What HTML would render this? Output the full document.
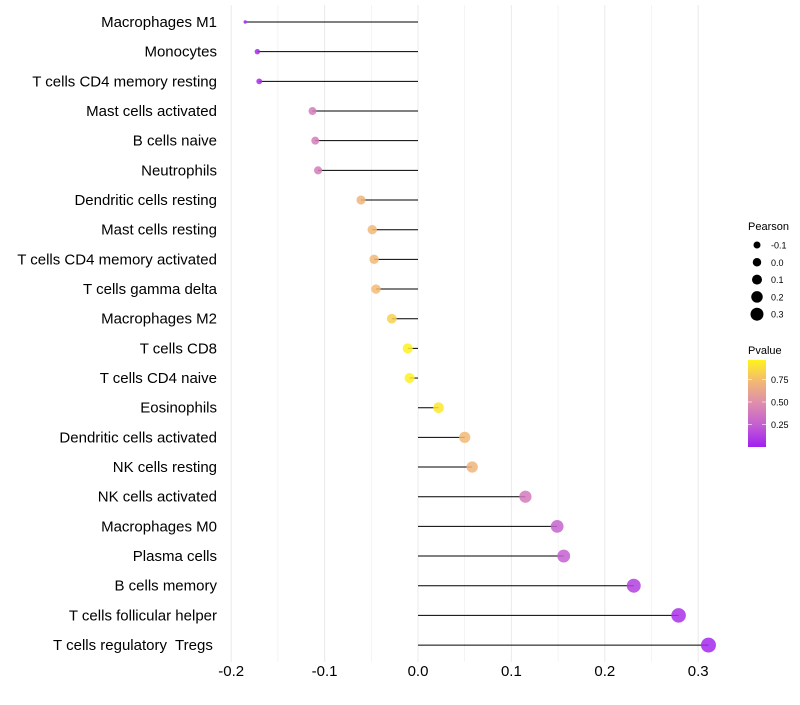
<!DOCTYPE html>
<html><head><meta charset="utf-8"><style>
body{margin:0;background:#fff;font-family:"Liberation Sans",sans-serif}
text{white-space:pre}
</style></head><body>
<svg id="c" width="800" height="700" xmlns="http://www.w3.org/2000/svg">
<defs><linearGradient id="pg" x1="0" y1="1" x2="0" y2="0">
<stop offset="0" stop-color="#A020F0"/><stop offset="0.25" stop-color="#C35ED2"/>
<stop offset="0.5" stop-color="#DE8CAE"/><stop offset="0.75" stop-color="#F2B875"/>
<stop offset="1" stop-color="#FFF21E"/></linearGradient></defs>
</svg>
<script>
const categories=["Macrophages M1","Monocytes","T cells CD4 memory resting","Mast cells activated","B cells naive","Neutrophils","Dendritic cells resting","Mast cells resting","T cells CD4 memory activated","T cells gamma delta","Macrophages M2","T cells CD8","T cells CD4 naive","Eosinophils","Dendritic cells activated","NK cells resting","NK cells activated","Macrophages M0","Plasma cells","B cells memory","T cells follicular helper","T cells regulatory  Tregs "];
const pearson=[-0.185,-0.172,-0.170,-0.113,-0.110,-0.107,-0.061,-0.049,-0.047,-0.045,-0.028,-0.011,-0.009,0.022,0.050,0.058,0.115,0.149,0.156,0.231,0.279,0.311];
const pvalue=[0.03,0.05,0.05,0.40,0.40,0.40,0.70,0.72,0.72,0.73,0.82,0.95,0.95,0.92,0.72,0.70,0.38,0.27,0.25,0.12,0.06,0.03];
const xTicks=[-0.2,-0.1,0.0,0.1,0.2,0.3];
const sizeLegend=[-0.1,0.0,0.1,0.2,0.3];
const pTicks=[0.25,0.50,0.75];
const NS="http://www.w3.org/2000/svg",svg=document.getElementById('c');
const x=v=>418+v*934;
const y=i=>22+i*29.67;
const rad=v=>v<-0.16?Math.max(1.7,1.7+(v+0.185)*80):Math.sqrt(Math.max(1,26.5+95*v));
const stops=[[0,[160,32,240]],[0.25,[195,94,210]],[0.5,[222,140,174]],[0.75,[242,184,117]],[1,[255,242,30]]];
function col(p){p=Math.min(1,Math.max(0,p/0.96));for(let k=1;k<stops.length;k++){if(p<=stops[k][0]){const a=stops[k-1],b=stops[k],t=(p-a[0])/(b[0]-a[0]);return 'rgb('+a[1].map((c,j)=>Math.round(c+(b[1][j]-c)*t)).join(',')+')';}}return 'rgb(255,242,30)';}
function el(t,a,txt){const e=document.createElementNS(NS,t);for(const k in a)e.setAttribute(k,a[k]);if(txt!==undefined)e.textContent=txt;svg.appendChild(e);return e;}
for(let v=-0.2;v<=0.3001;v+=0.05){const g=el('line',{x1:x(v),x2:x(v),y1:5,y2:662,stroke:'#ececec','stroke-width':Math.abs(Math.round(v*20))%2?0.6:1.1});}
xTicks.forEach(v=>{const t=el('text',{x:x(v),y:676,'font-size':15,'text-anchor':'middle',fill:'#000'},v.toFixed(1));});
categories.forEach((c,i)=>{
const t=el('text',{x:217,y:y(i)+5,'font-size':15,'text-anchor':'end',fill:'#000'},c);
const l=el('line',{x1:x(0),x2:x(pearson[i]),y1:y(i),y2:y(i),stroke:'#000','stroke-width':1});
const d=el('circle',{cx:x(pearson[i]),cy:y(i),r:rad(pearson[i]),fill:col(pvalue[i]),'fill-opacity':0.85});
});
let t=el('text',{x:748,y:230,'font-size':11},'Pearson');
sizeLegend.forEach((v,k)=>{const cy=245+k*17.3;const d=el('circle',{cx:757,cy:cy,r:3.5+k*0.75,fill:'#000'});
const tt=el('text',{x:771,y:cy+3.5,'font-size':9},v.toFixed(1));});
t=el('text',{x:748,y:354,'font-size':11},'Pvalue');
const r=el('rect',{x:748,y:360,width:18,height:87,fill:'url(#pg)'});
pTicks.forEach(v=>{const cy=447-v*90;const tt=el('text',{x:771,y:cy+3.5,'font-size':9},v.toFixed(2));
el('line',{x1:748,x2:752,y1:cy,y2:cy,stroke:'#fff','stroke-opacity':0.6});el('line',{x1:762,x2:766,y1:cy,y2:cy,stroke:'#fff','stroke-opacity':0.6});});
</script>
</body></html>
